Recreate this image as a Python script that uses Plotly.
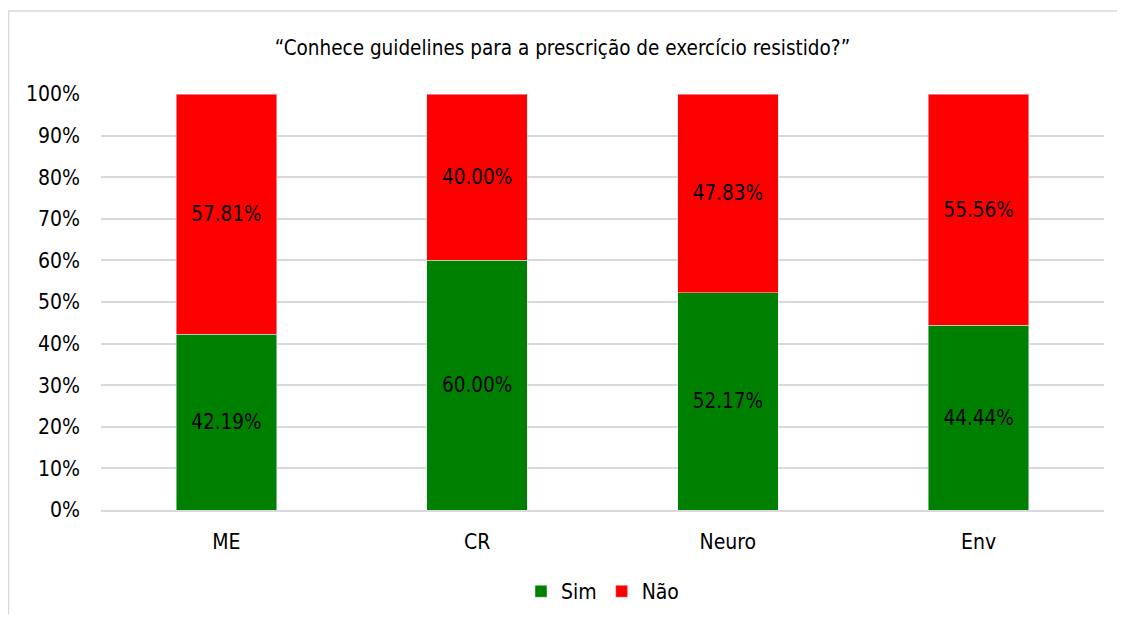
import plotly.graph_objects as go

# Data
categories = ["ME", "CR", "Neuro", "Env"]
sim = [42.19, 60.00, 52.17, 44.44]
nao = [57.81, 40.00, 47.83, 55.56]

FONT = "DejaVu Sans Condensed, Roboto, sans-serif"

fig = go.Figure()
fig.add_trace(go.Bar(x=categories, y=sim, name="Sim", marker_color="#008000",
                     texttemplate="%{y:.2f}%", textposition="inside",
                     insidetextanchor="middle", textfont=dict(color="black", size=20.5)))
fig.add_trace(go.Bar(x=categories, y=nao, name="Não", marker_color="#ff0000",
                     texttemplate="%{y:.2f}%", textposition="inside",
                     insidetextanchor="middle", textfont=dict(color="black", size=20.5)))

fig.update_layout(
    barmode="stack", bargap=0.6,
    width=1109, height=606,
    margin=dict(l=93, r=13, t=86, b=104),
    plot_bgcolor="white", paper_bgcolor="white",
    font=dict(family=FONT, size=21, color="black"),
    title=dict(text="“Conhece guidelines para a prescrição de exercício resistido?”",
               x=0.5, xanchor="center", y=0.935, yanchor="middle",
               font=dict(size=20.5)),
    legend=dict(orientation="h", x=0.5, xanchor="center",
                yref="container", y=0.037, yanchor="middle",
                font=dict(size=21), traceorder="normal"),
    uniformtext=dict(minsize=10, mode="show"),
)
fig.update_yaxes(range=[0, 100], dtick=10, ticksuffix="%", showgrid=True,
                 gridcolor="#d9d9d9", gridwidth=1.5, zeroline=False,
                 ticklabelstandoff=20, showline=False, tickfont=dict(size=21))
fig.update_xaxes(showline=True, linecolor="#d9d9d9", linewidth=1.5,
                 ticklabelstandoff=12, tickfont=dict(size=21))

# outer border of the chart area
fig.add_shape(type="rect", xref="paper", yref="paper",
              x0=-0.0922, x1=1.05, y0=-0.4, y1=1.1995,
              line=dict(color="#d9d9d9", width=1.5), layer="below")

fig.write_html("out.html")
